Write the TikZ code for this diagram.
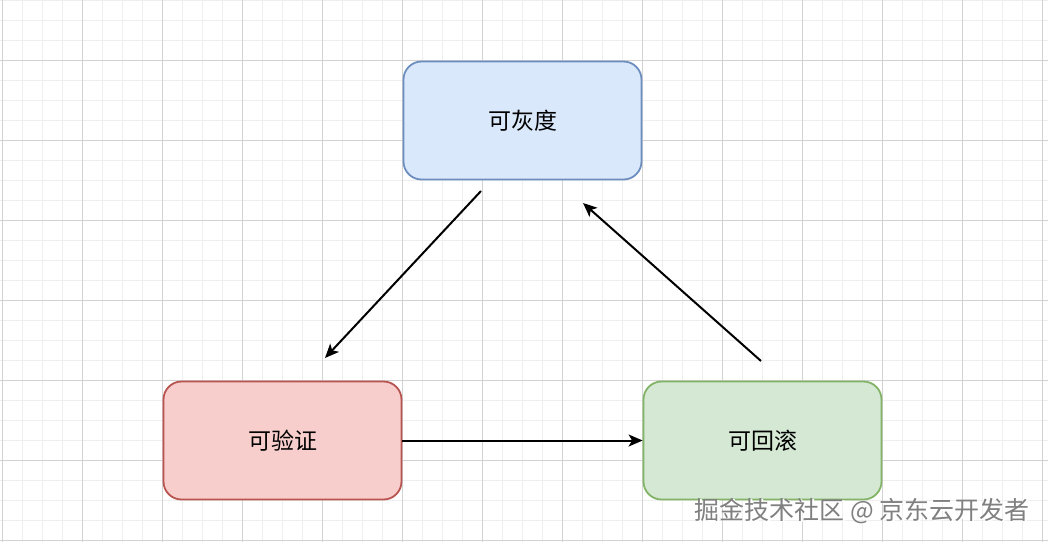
\documentclass[tikz,border=0pt]{standalone}
\usepackage{fontspec}
\setmainfont{Noto Sans CJK SC}
\usetikzlibrary{arrows.meta}
\definecolor{gridminor}{HTML}{EFEFEF}
\definecolor{gridmajor}{HTML}{D2D2D2}
\definecolor{bluefill}{HTML}{DAE8FC}
\definecolor{blueline}{HTML}{6C8EBF}
\definecolor{redfill}{HTML}{F8CECC}
\definecolor{redline}{HTML}{B85450}
\definecolor{greenfill}{HTML}{D5E8D4}
\definecolor{greenline}{HTML}{82B366}
\definecolor{markgray}{HTML}{808080}
\tikzstyle{stage} = [draw, line width=1.8pt, rounded corners=18pt, minimum width=238pt, minimum height=118pt, font={\fontsize{23pt}{27pt}\selectfont}]
\tikzstyle{graystage} = [stage, fill=bluefill, draw=blueline]
\tikzstyle{verifystage} = [stage, fill=redfill, draw=redline]
\tikzstyle{rollbackstage} = [stage, fill=greenfill, draw=greenline]
\tikzstyle{flow} = [-{Stealth[length=14pt,width=12pt,inset=3.5pt]}, line width=2pt]
\tikzstyle{watermark} = [font={\fontsize{25pt}{29pt}\selectfont}, anchor=east, inner sep=0pt]

\begin{document}
\begin{tikzpicture}[x=1pt,y=-1pt]
  \useasboundingbox[fill=white] (0,0) rectangle (1048,542);
  % grid
  \foreach \gx in {2,22,...,1042} \draw[gridminor,line width=1pt] (\gx,0) -- (\gx,542);
  \foreach \gy in {0,20,...,540} \draw[gridminor,line width=1pt] (0,\gy) -- (1048,\gy);
  \foreach \gx in {2,82,...,1042} \draw[gridmajor,line width=1pt] (\gx,0) -- (\gx,542);
  \foreach \gy in {60,140,...,540} \draw[gridmajor,line width=1pt] (0,\gy) -- (1048,\gy);
  % stages
  \node[graystage](hui) at (522.5,120.5){可灰度};
  \node[verifystage](yan) at (282.5,440.5){可验证};
  \node[rollbackstage](gun) at (762.5,440.5){可回滚};
  \coordinate (huiout) at (481,191);
  \coordinate (yanin) at (325,358);
  \coordinate (gunout) at (761,361);
  \coordinate (huiin) at (583,203);
  \draw[flow](huiout)--(yanin);
  \draw[flow](yan)--(gun);
  \draw[flow](gunout)--(huiin);
  % watermark
  \node[watermark,white](wm0) at (1031.5,512.5){掘金技术社区 @ 京东云开发者};
  \node[watermark,markgray](wm) at (1030,511){掘金技术社区 @ 京东云开发者};
\end{tikzpicture}
\end{document}
